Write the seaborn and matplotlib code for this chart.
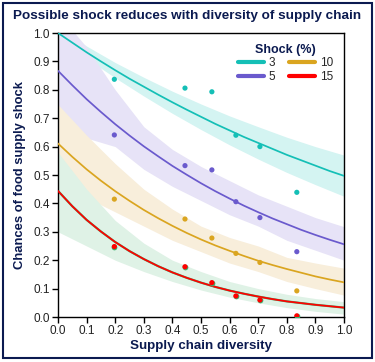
import numpy as np
import pandas as pd
import matplotlib
matplotlib.use("Agg")
import matplotlib.pyplot as plt
from matplotlib.lines import Line2D
from matplotlib.patches import Rectangle
import seaborn as sns

# observed points
diversity = [0.197, 0.444, 0.538, 0.622, 0.706, 0.835]
pts_3 = [0.837, 0.806, 0.793, 0.640, 0.600, 0.439]
pts_5 = [0.641, 0.533, 0.518, 0.406, 0.350, 0.230]
pts_10 = [0.415, 0.345, 0.278, 0.224, 0.192, 0.092]
pts_15 = [0.248, 0.177, 0.121, 0.074, 0.060, 0.004]

# fitted curves, read at x = 0, 0.05, ..., 1.0
fit_x = [0.0, 0.05, 0.1, 0.15, 0.2, 0.25, 0.3, 0.35, 0.4, 0.45, 0.5,
         0.55, 0.6, 0.65, 0.7, 0.75, 0.8, 0.85, 0.9, 0.95, 1.0]
fit_3 = [1.000, 0.966, 0.932, 0.900, 0.869, 0.839, 0.811, 0.783, 0.756, 0.730, 0.705,
         0.680, 0.657, 0.634, 0.613, 0.592, 0.571, 0.552, 0.533, 0.514, 0.497]
fit_5 = [0.867, 0.816, 0.767, 0.722, 0.679, 0.639, 0.601, 0.566, 0.532, 0.501, 0.471,
         0.443, 0.417, 0.392, 0.369, 0.347, 0.327, 0.307, 0.289, 0.272, 0.256]
fit_10 = [0.611, 0.564, 0.520, 0.480, 0.443, 0.409, 0.377, 0.348, 0.321, 0.296, 0.273,
          0.252, 0.233, 0.215, 0.198, 0.183, 0.169, 0.156, 0.143, 0.132, 0.122]
fit_15 = [0.444, 0.390, 0.342, 0.301, 0.264, 0.232, 0.204, 0.179, 0.157, 0.138, 0.121,
          0.106, 0.093, 0.082, 0.072, 0.063, 0.055, 0.049, 0.043, 0.038, 0.033]

# confidence bands, read at x = 0, 0.1, ..., 1.0
band_x = [0.0, 0.1, 0.2, 0.3, 0.4, 0.5, 0.6, 0.7, 0.8, 0.9, 1.0]
hi_3 = [1.020, 0.954, 0.896, 0.844, 0.795, 0.750, 0.708, 0.670, 0.633, 0.600, 0.570]
lo_3 = [0.980, 0.910, 0.842, 0.778, 0.717, 0.660, 0.606, 0.556, 0.509, 0.466, 0.425]
hi_5 = [1.070, 0.950, 0.800, 0.670, 0.590, 0.530, 0.480, 0.430, 0.390, 0.350, 0.318]
lo_5 = [0.660, 0.630, 0.600, 0.520, 0.460, 0.410, 0.360, 0.320, 0.270, 0.235, 0.200]
hi_10 = [0.748, 0.640, 0.540, 0.450, 0.380, 0.320, 0.280, 0.250, 0.210, 0.190, 0.172]
lo_10 = [0.470, 0.420, 0.370, 0.320, 0.270, 0.230, 0.190, 0.160, 0.125, 0.100, 0.077]
hi_15 = [0.580, 0.450, 0.340, 0.260, 0.200, 0.160, 0.125, 0.100, 0.080, 0.065, 0.054]
lo_15 = [0.300, 0.250, 0.200, 0.160, 0.125, 0.095, 0.070, 0.050, 0.033, 0.020, 0.010]

shocks = ["3", "5", "10", "15"]
line_colors = ["#14BFB6", "#6A5ACD", "#DAA520", "#FF0000"]
band_colors = ["#D4F4F2", "#E7E3F7", "#F8EEDB", "#DFF2E6"]
navy = "#0B1A50"

pts = pd.DataFrame({
    "x": diversity * 4,
    "y": pts_3 + pts_5 + pts_10 + pts_15,
    "shock": sum([[s] * len(diversity) for s in shocks], []),
})
fits = pd.DataFrame({
    "x": fit_x * 4,
    "y": fit_3 + fit_5 + fit_10 + fit_15,
    "shock": sum([[s] * len(fit_x) for s in shocks], []),
})
bands = pd.DataFrame({
    "x": band_x * 4,
    "lo": lo_3 + lo_5 + lo_10 + lo_15,
    "hi": hi_3 + hi_5 + hi_10 + hi_15,
    "shock": sum([[s] * len(band_x) for s in shocks], []),
})

sns.set_style("white")
plt.rcParams["font.family"] = ["Liberation Sans", "DejaVu Sans"]

fig = plt.figure(figsize=(3.75, 3.62), dpi=100)
ax = fig.add_axes([58 / 375, 45 / 362, 286 / 375, 284 / 362])

for s, bc in zip(shocks, band_colors):
    d = bands[bands.shock == s]
    ax.fill_between(d.x, d.lo, d.hi, color=bc, lw=0, zorder=1)

palette = dict(zip(shocks, line_colors))
# green underlay below the 15% line and points
d15 = fits[fits.shock == "15"]
ax.plot(d15.x, d15.y, color="#3CB371", lw=1.6, zorder=2)
sns.lineplot(data=fits, x="x", y="y", hue="shock", palette=palette,
             lw=1.25, legend=False, ax=ax, zorder=3)
p15 = pts[pts.shock == "15"]
ax.scatter(p15.x, p15.y, s=17, color="#3CB371", lw=0, zorder=3)
sns.scatterplot(data=pts, x="x", y="y", hue="shock", palette=palette,
                s=14, linewidth=0, legend=False, ax=ax, zorder=4)

ax.set_xlim(0, 1)
ax.set_ylim(0, 1)
ticks = [0.0, 0.1, 0.2, 0.3, 0.4, 0.5, 0.6, 0.7, 0.8, 0.9, 1.0]
ax.set_xticks(ticks)
ax.set_yticks(ticks)
ax.set_xticklabels([f"{t:.1f}" for t in ticks])
ax.set_yticklabels([f"{t:.1f}" for t in ticks])
ax.tick_params(axis="both", length=4, width=1, direction="out",
               labelsize=8.5, colors="black", labelcolor="#222222", pad=2,
               bottom=True, left=True)
for sp in ax.spines.values():
    sp.set_color("black")
    sp.set_linewidth(1)

ax.set_xlabel("Supply chain diversity", fontsize=9.6, fontweight="bold",
              color=navy, labelpad=2)
ax.set_ylabel("Chances of food supply shock", fontsize=9.4, fontweight="bold",
              color=navy, labelpad=5)

handles = [Line2D([0], [0], color=c, lw=3) for c in line_colors]
leg = ax.legend(handles, shocks, title="Shock (%)", ncol=2, frameon=False,
                loc="upper right", bbox_to_anchor=(1.0, 1.0),
                fontsize=8.5, handlelength=2.2, handletextpad=0.4,
                columnspacing=1.2, labelspacing=0.15, borderaxespad=0.5)
leg.get_title().set_fontweight("bold")
leg.get_title().set_color(navy)
leg.get_title().set_fontsize(9)

fig.text(0.5, 1 - 19 / 362, "Possible shock reduces with diversity of supply chain",
         ha="center", va="baseline", fontsize=9.7, fontweight="bold", color=navy)

fig.patches.append(Rectangle((3 / 375, 4 / 362), 369 / 375, 355 / 362,
                             transform=fig.transFigure, fill=False,
                             edgecolor=navy, lw=1.5))

fig.savefig("out.png", dpi=100)
